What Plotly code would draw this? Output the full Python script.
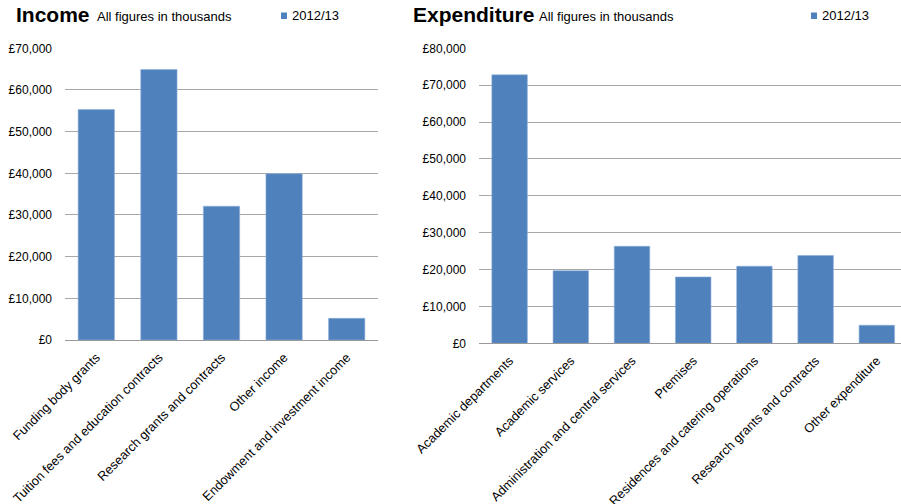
import plotly.graph_objects as go

income_categories = ["Funding body grants", "Tuition fees and education contracts",
                     "Research grants and contracts", "Other income",
                     "Endowment and investment income"]
income_values = [55300, 64900, 32100, 39900, 5200]

exp_categories = ["Academic departments", "Academic services",
                  "Administration and central services", "Premises",
                  "Residences and catering operations",
                  "Research grants and contracts", "Other expenditure"]
exp_values = [72800, 19700, 26300, 18000, 20900, 23800, 4900]

series_name = "2012/13"
income_ticks = [0, 10000, 20000, 30000, 40000, 50000, 60000, 70000]
exp_ticks = [0, 10000, 20000, 30000, 40000, 50000, 60000, 70000, 80000]

BLUE = "#4F81BD"
GRID = "#a8a8a8"
FONT = "Liberation Sans"
W, H = 901, 504

def px(x):
    return x / W

def py(y):
    return 1 - y / H

def money(v):
    return "£" + format(v, ",d")

fig = go.Figure()
fig.add_trace(go.Bar(x=income_categories, y=income_values, name=series_name,
                     marker=dict(color=BLUE, line=dict(color="#8eaedb", width=0.6)),
                     xaxis="x", yaxis="y", showlegend=False))
fig.add_trace(go.Bar(x=exp_categories, y=exp_values, name=series_name,
                     marker=dict(color=BLUE, line=dict(color="#8eaedb", width=0.6)),
                     xaxis="x2", yaxis="y2", showlegend=False))

tickfont = dict(family=FONT, size=12, color="#000")
xtickfont = dict(family=FONT, size=12.8, color="#000")
fig.update_layout(
    width=W, height=H,
    margin=dict(l=0, r=0, t=0, b=0),
    paper_bgcolor="white", plot_bgcolor="white",
    bargap=0.42,
    font=dict(family=FONT, color="#000"),
    xaxis=dict(domain=[px(65), px(378)], anchor="y", tickangle=-45,
               tickfont=xtickfont, showgrid=False, showline=True,
               linecolor="#999999", linewidth=1, ticks="", automargin=False,
               ticklabelstandoff=4),
    yaxis=dict(domain=[py(340), py(48.3)], anchor="x", range=[0, 70000],
               tickmode="array", tickvals=income_ticks,
               ticktext=[money(v) for v in income_ticks],
               tickfont=tickfont, gridcolor=GRID, gridwidth=1, showline=False,
               zeroline=False, ticks="", ticklabelstandoff=12, automargin=False),
    xaxis2=dict(domain=[px(479), 1.0], anchor="y2", tickangle=-45,
                tickfont=xtickfont, showgrid=False, showline=True,
                linecolor="#999999", linewidth=1, ticks="", automargin=False,
                range=[-0.5, 6.395], ticklabelstandoff=4),
    yaxis2=dict(domain=[py(343.3), py(48.3)], anchor="x2", range=[0, 80000],
                tickmode="array", tickvals=exp_ticks,
                ticktext=[money(v) for v in exp_ticks],
                tickfont=tickfont, gridcolor=GRID, gridwidth=1, showline=False,
                zeroline=False, ticks="", ticklabelstandoff=12, automargin=False),
)

annotations = [
    dict(text="<b>Income</b>", x=px(14), y=py(14), xanchor="left", yanchor="middle",
         font=dict(family=FONT, size=21, color="#000")),
    dict(text="All figures in thousands", x=px(95), y=py(17), xanchor="left", yanchor="middle",
         font=dict(family=FONT, size=13, color="#000")),
    dict(text="<b>Expenditure</b>", x=px(411), y=py(14), xanchor="left", yanchor="middle",
         font=dict(family=FONT, size=21, color="#000")),
    dict(text="All figures in thousands", x=px(537), y=py(17), xanchor="left", yanchor="middle",
         font=dict(family=FONT, size=13, color="#000")),
    dict(text=series_name, x=px(290), y=py(15), xanchor="left", yanchor="middle",
         font=dict(family=FONT, size=13, color="#000")),
    dict(text=series_name, x=px(820), y=py(15), xanchor="left", yanchor="middle",
         font=dict(family=FONT, size=13, color="#000")),
]
for a in annotations:
    a.update(xref="paper", yref="paper", showarrow=False)
fig.update_layout(annotations=annotations)

shapes = [
    dict(type="rect", x0=px(281), x1=px(287), y0=py(19), y1=py(12.5),
         fillcolor=BLUE, line=dict(width=0)),
    dict(type="rect", x0=px(811), x1=px(817), y0=py(19), y1=py(12.5),
         fillcolor=BLUE, line=dict(width=0)),
]
for s in shapes:
    s.update(xref="paper", yref="paper")
fig.update_layout(shapes=shapes)

fig.write_html("out.html", config={"displayModeBar": False},
               post_script="document.body.style.margin='0';document.body.style.padding='0';")
